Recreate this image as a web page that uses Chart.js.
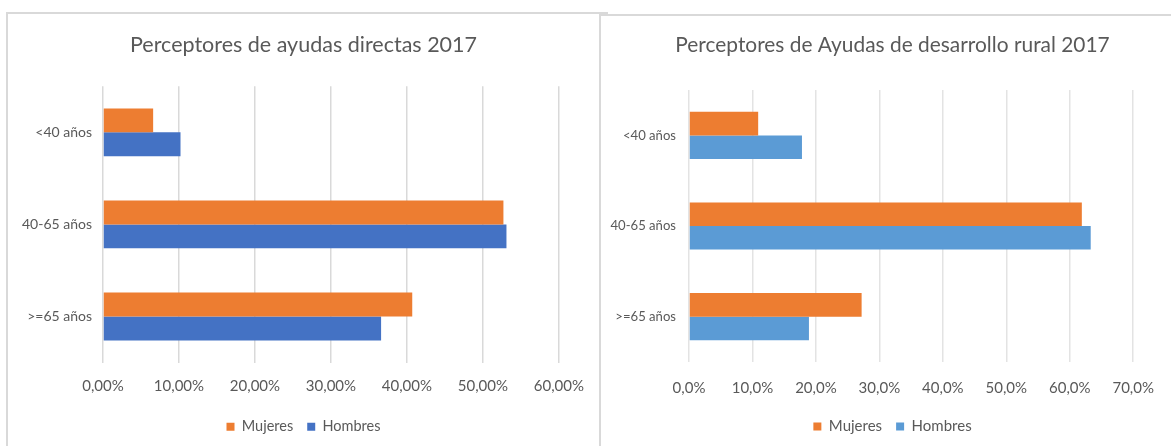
<!DOCTYPE html>
<html>
<head>
<meta charset="utf-8">
<script src="https://cdn.jsdelivr.net/npm/chart.js@4.4.1/dist/chart.umd.min.js"></script>
<style>
    html, body { margin: 0; padding: 0; background: #fff; width: 1171px; height: 446px; overflow: hidden; }
    .marco { position: absolute; border-top: 2px solid #d9d9d9; border-left: 2px solid #d9d9d9; }
    .lienzo { position: absolute; }
</style>
</head>
<body>
<div class="marco" style="left:6px; top:12px; width:600px; height:460px;"></div>
<div class="marco" style="left:599px; top:14px; width:600px; height:460px;"></div>
<div class="lienzo" style="left:8px; top:14px; width:591px; height:432px;"><canvas id="graficoDirectas"></canvas></div>
<div class="lienzo" style="left:601px; top:16px; width:570px; height:430px;"><canvas id="graficoRural"></canvas></div>

<script>
// Datos
const categorias = ["<40 años", "40-65 años", ">=65 años"];
const series = ["Mujeres", "Hombres"];

const directasMujeres = [6.6, 52.7, 40.7];
const directasHombres = [10.2, 53.1, 36.6];

const ruralMujeres = [10.9, 61.9, 27.2];
const ruralHombres = [17.8, 63.3, 18.9];

const fuente = 'Lato, "Open Sans", sans-serif';
const gris = "#595959";

// titulo y leyenda centrados en todo el marco, no solo en el area del grafico
const desplazarCajas = {
    id: "desplazarCajas",
    afterLayout(chart, args, opts) {
        const dx = opts.dx || 0;
        [chart.titleBlock, chart.legend].forEach(b => {
            if (b) { b.left += dx; b.right += dx; }
        });
    }
};

function crearGrafico(id, titulo, mujeres, hombres, azul, cfg) {
    new Chart(document.getElementById(id), {
        type: "bar",
        data: {
            labels: categorias,
            datasets: [
                { label: series[0], data: mujeres, backgroundColor: "#ED7D31" },
                { label: series[1], data: hombres, backgroundColor: azul }
            ]
        },
        plugins: [desplazarCajas],
        options: {
            indexAxis: "y",
            responsive: true,
            maintainAspectRatio: false,
            animation: false,
            layout: { padding: { left: 0, right: cfg.derecha, top: 0, bottom: 2 } },
            datasets: { bar: { categoryPercentage: 0.52, barPercentage: 1 } },
            scales: {
                x: {
                    min: 0,
                    max: cfg.max,
                    ticks: {
                        stepSize: 10,
                        padding: cfg.sepX,
                        color: gris,
                        font: { family: fuente, size: 15 },
                        callback: v => v.toFixed(cfg.decimales).replace(".", ",") + "%"
                    },
                    grid: { color: cfg.rejilla, lineWidth: 1.5, drawTicks: false },
                    border: { display: false },
                    afterFit: s => { s.height = cfg.altoX; }
                },
                y: {
                    ticks: {
                        padding: cfg.sepY,
                        color: gris,
                        font: { family: fuente, size: cfg.letraY }
                    },
                    grid: { display: false, drawTicks: false },
                    border: { display: false },
                    afterFit: s => { s.width = cfg.anchoY; }
                }
            },
            plugins: {
                desplazarCajas: { dx: cfg.dx },
                title: {
                    display: true,
                    text: titulo,
                    color: gris,
                    font: { family: fuente, size: cfg.letraTitulo, weight: "normal" },
                    padding: { top: cfg.tituloArriba, bottom: cfg.tituloAbajo }
                },
                legend: {
                    position: "bottom",
                    labels: {
                        boxWidth: 8,
                        boxHeight: 8,
                        padding: 14,
                        color: gris,
                        font: { family: fuente, size: cfg.letraLeyenda }
                    }
                },
                tooltip: { enabled: false }
            }
        }
    });
}

crearGrafico("graficoDirectas", "Perceptores de ayudas directas 2017",
    directasMujeres, directasHombres, "#4472C4",
    { max: 60, decimales: 2, derecha: 39, anchoY: 95, sepY: 11, altoX: 43, sepX: 15,
      letraY: 14, letraLeyenda: 14.5, letraTitulo: 21.5,
      tituloArriba: 18, tituloAbajo: 28.5, rejilla: "#d9d9d9", dx: 19.5 });

crearGrafico("graficoRural", "Perceptores de Ayudas de desarrollo rural 2017",
    ruralMujeres, ruralHombres, "#5B9BD5",
    { max: 70, decimales: 1, derecha: 24, anchoY: 88, sepY: 13, altoX: 43, sepX: 17,
      letraY: 13.1, letraLeyenda: 15, letraTitulo: 20.9,
      tituloArriba: 17, tituloAbajo: 32, rejilla: "#e3e3e3", dx: 18.5 });
</script>
</body>
</html>
